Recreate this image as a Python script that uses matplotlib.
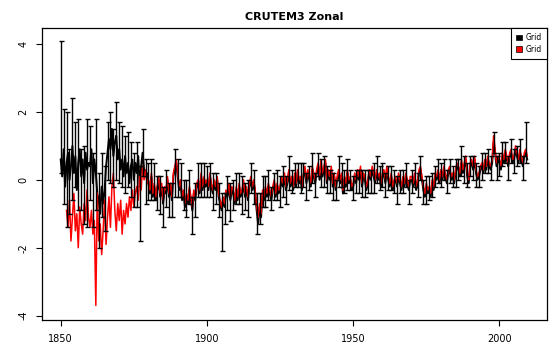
import numpy as np
import matplotlib
matplotlib.use("Agg")
import matplotlib.pyplot as plt
from matplotlib.patches import Patch

nan = np.nan

# semi-annual steps, 1850.0 .. 2009.5
years = np.arange(1850, 2010, 0.5)

grid_black = [
    0.6, 0.1, 0.9, -0.2, 0.5, 0.8, 0.0, 0.4, 1.0, 0.2, 0.7, -0.3, 0.5, 0.9, 0.1, 0.6, -0.1, 0.8, 0.3, 0.5,
    0.4, 0.9, -0.1, 0.6, 0.2, -0.4, -0.6, -1.0, -0.2, -0.7, -0.3, 0.4, 0.8, 1.2, 0.9, 1.5, 0.7, 1.1, 1.3, 0.6,
    0.9, 0.3, 0.6, 0.1, 0.7, 0.2, 0.5, -0.1, 0.4, 0.6, 0.0, 0.5, 0.2, 0.7, -0.2, 0.4, 0.8, 0.3, 0.1, 0.2,
    -0.1, -0.4, 0.1, -0.5, -0.2, -0.6, -0.3, 0.0, -0.5, -0.2, -0.7, -0.3, -0.4, 0.0, -0.5, -0.2, -0.6, 0.1, 0.3, 0.5,
    0.1, -0.3, -0.1, -0.6, -0.4, -0.8, -0.5, -0.7, -0.3, -0.6, -0.9, -0.4, -0.6, -0.2, -0.1, -0.4, 0.1, -0.3, 0.0, -0.2,
    -0.1, -0.3, 0.1, -0.2, -0.4, -0.1, -0.3, 0.0, -0.5, -0.7, -0.9, -0.6, -0.8, -0.4, -0.5, -0.2, -0.6, -0.3, -0.4, -0.7,
    -0.3, -0.6, -0.2, -0.5, -0.4, -0.1, -0.5, -0.3, -0.6, -0.2, 0.0, -0.3, -0.1, -0.4, -0.9, -1.3, -0.8, -1.1, -0.4, -0.6,
    -0.3, -0.5, -0.2, -0.4, -0.6, -0.3, -0.1, -0.5, -0.2, -0.4, -0.3, 0.0, -0.2, 0.1, -0.3, -0.1, 0.2, -0.2, 0.0, -0.3,
    0.1, -0.2, 0.2, -0.1, 0.0, -0.3, 0.1, 0.3, -0.1, 0.2, 0.0, -0.2, 0.3, 0.1, -0.1, 0.2, 0.4, 0.0, 0.2, 0.1,
    0.3, 0.5, -0.1, 0.2, 0.0, 0.3, -0.2, 0.1, -0.3, 0.0, 0.2, -0.1, 0.1, -0.4, 0.0, -0.2, 0.2, -0.1, 0.0, -0.3,
    -0.2, 0.1, -0.1, 0.2, 0.0, 0.3, -0.2, 0.1, 0.0, -0.3, -0.1, 0.2, 0.0, 0.3, 0.1, -0.1, 0.2, 0.0, 0.1, -0.2,
    0.1, 0.2, -0.1, 0.3, 0.0, -0.2, 0.1, -0.3, -0.1, 0.0, -0.2, 0.1, -0.1, -0.3, 0.0, -0.2, 0.1, -0.1, -0.3, 0.0,
    0.0, -0.2, 0.1, -0.3, -0.1, 0.2, 0.3, 0.0, -0.3, -0.5, -0.2, -0.4, -0.3, -0.5, -0.1, -0.3, 0.1, 0.0, 0.2, -0.1,
    0.2, 0.0, 0.3, 0.1, -0.1, 0.2, 0.3, 0.0, 0.1, -0.1, 0.2, 0.4, 0.3, 0.1, 0.5, 0.2, 0.4, 0.6, 0.1, -0.1,
    0.4, 0.5, 0.3, 0.6, 0.2, 0.0, 0.1, 0.3, 0.4, 0.2, 0.5, 0.3, 0.6, 0.4, 0.3, 0.5, 1.1, 0.8, 0.4, 0.6,
    0.5, 0.3, 0.7, 0.5, 0.8, 0.6, 0.4, 0.7, 0.8, 0.5, 0.6, 0.9, 0.7, 0.5, 0.8, 0.6, 0.4, 0.7, 0.8, 0.6,
]

grid_red = [
    nan, nan, nan, nan, -0.9, -1.4, -0.6, -1.8, -1.1, -0.4, -1.5, -1.0, -2.0, -0.8, -1.3, -1.6, -0.7, -1.2, -0.3, -1.1,
    -1.4, -0.9, -1.6, -1.2, -3.7, -0.4, -1.8, -1.3, -2.2, -1.5, -0.6, -1.9, -1.1, -0.5, -1.4, -0.2, 0.2, -0.9, -1.5, -0.7,
    -1.2, -0.6, -1.6, -0.9, -1.3, -0.7, -1.1, -0.5, -0.9, -0.3, -0.8, -0.4, -0.2, -0.6, 0.1, -0.3, 0.4, 0.0, 0.3, -0.1,
    0.0, -0.3, 0.2, -0.4, -0.1, -0.5, -0.2, 0.1, -0.4, -0.1, -0.6, -0.2, -0.3, 0.1, -0.4, -0.1, -0.5, 0.2, 0.4, 0.6,
    0.2, -0.2, 0.0, -0.5, -0.3, -0.7, -0.4, -0.6, -0.2, -0.5, -0.8, -0.3, -0.5, -0.1, 0.0, -0.3, 0.2, -0.2, 0.1, -0.1,
    0.0, -0.2, 0.2, -0.1, -0.3, 0.0, -0.2, 0.1, -0.4, -0.6, -0.8, -0.5, -0.7, -0.3, -0.4, -0.1, -0.5, -0.2, -0.3, -0.6,
    -0.2, -0.5, -0.1, -0.4, -0.3, 0.0, -0.4, -0.2, -0.5, -0.1, 0.1, -0.2, 0.0, -0.3, -0.8, -1.1, -0.7, -1.0, -0.3, -0.5,
    -0.2, -0.4, -0.1, -0.3, -0.5, -0.2, 0.0, -0.4, -0.1, -0.3, -0.2, 0.1, -0.1, 0.2, -0.2, 0.0, 0.3, -0.1, 0.1, -0.2,
    0.2, -0.1, 0.3, 0.0, 0.1, -0.2, 0.2, 0.4, 0.0, 0.3, 0.1, -0.1, 0.4, 0.2, 0.0, 0.3, 0.5, 0.1, 0.6, 0.2,
    0.4, 0.6, 0.0, 0.3, 0.1, 0.4, -0.1, 0.2, -0.2, 0.1, 0.3, 0.0, 0.2, -0.3, 0.1, -0.1, 0.3, 0.0, 0.1, -0.2,
    -0.1, 0.2, 0.0, 0.3, 0.1, 0.4, -0.1, 0.2, 0.1, -0.2, 0.0, 0.3, 0.1, 0.4, 0.2, 0.0, 0.3, 0.1, 0.2, -0.1,
    0.2, 0.3, 0.0, 0.4, 0.1, -0.1, 0.2, -0.2, 0.0, 0.1, -0.1, 0.2, 0.0, -0.2, 0.1, -0.1, 0.2, 0.0, -0.2, 0.1,
    0.1, -0.1, 0.2, -0.2, 0.0, 0.3, 0.4, 0.1, -0.2, -0.4, -0.1, -0.3, -0.2, -0.4, 0.0, -0.2, 0.2, 0.1, 0.3, 0.0,
    0.3, 0.1, 0.4, 0.2, 0.0, 0.3, 0.4, 0.1, 0.2, 0.0, 0.3, 0.5, 0.4, 0.2, 0.6, 0.3, 0.5, 0.7, 0.2, 0.0,
    0.5, 0.6, 0.4, 0.7, 0.3, 0.1, 0.2, 0.4, 0.5, 0.3, 0.6, 0.4, 0.7, 0.5, 0.4, 0.6, 1.3, 0.9, 0.5, 0.7,
    0.6, 0.4, 0.8, 0.6, 0.9, 0.7, 0.5, 0.8, 0.9, 0.6, 0.7, 1.0, 0.8, 0.6, 0.9, 0.7, 0.5, 0.8, 0.9, 0.7,
]

# whisker sizes, one per year (drawn at the first half of each year)
err_hi = [
    3.5, 1.2, 1.5, 0.9, 1.4, 1.0, 1.3, 0.8, 1.1, 1.5,
    1.2, 0.9, 1.6, 0.8, 1.0, 0.7, 0.9, 1.1, 0.8, 1.0,
    0.8, 1.0, 0.6, 0.9, 0.7, 0.8, 0.9, 0.6, 0.7, 0.5,
    0.6, 0.5, 0.7, 0.4, 0.6, 0.5, 0.7, 0.4, 0.5, 0.6,
    0.5, 0.6, 0.4, 0.5, 0.6, 0.4, 0.5, 0.6, 0.4, 0.5,
    0.5, 0.4, 0.6, 0.5, 0.4, 0.5, 0.4, 0.6, 0.5, 0.4,
    0.5, 0.4, 0.5, 0.4, 0.6, 0.5, 0.4, 0.5, 0.4, 0.5,
    0.4, 0.5, 0.4, 0.3, 0.5, 0.4, 0.6, 0.4, 0.5, 0.3,
    0.4, 0.3, 0.5, 0.4, 0.3, 0.4, 0.5, 0.3, 0.4, 0.4,
    0.4, 0.5, 0.3, 0.4, 0.3, 0.5, 0.4, 0.3, 0.4, 0.3,
    0.3, 0.4, 0.3, 0.5, 0.3, 0.4, 0.3, 0.4, 0.5, 0.3,
    0.4, 0.3, 0.4, 0.3, 0.4, 0.3, 0.4, 0.3, 0.4, 0.3,
    0.3, 0.4, 0.3, 0.4, 0.3, 0.3, 0.4, 0.3, 0.3, 0.4,
    0.3, 0.3, 0.4, 0.3, 0.3, 0.4, 0.3, 0.5, 0.3, 0.4,
    0.3, 0.4, 0.3, 0.3, 0.4, 0.3, 0.3, 0.4, 0.3, 0.3,
    0.3, 0.4, 0.3, 0.3, 0.4, 0.3, 0.3, 0.4, 0.3, 0.9,
]
err_lo = [
    0.4, 1.6, 1.9, 1.0, 1.6, 0.9, 1.4, 1.0, 1.2, 1.7,
    1.0, 1.3, 1.1, 1.4, 0.9, 1.2, 0.8, 1.0, 0.9, 1.3,
    1.0, 0.8, 1.1, 0.7, 0.9, 0.8, 1.0, 1.6, 0.7, 0.8,
    0.5, 0.7, 0.4, 0.6, 0.5, 0.7, 0.4, 0.6, 0.5, 0.8,
    0.6, 0.4, 0.5, 0.6, 0.4, 0.7, 0.5, 0.4, 0.6, 0.5,
    0.4, 0.6, 0.5, 0.4, 0.6, 1.2, 0.5, 0.4, 0.6, 0.5,
    0.4, 0.5, 0.6, 0.4, 0.5, 0.4, 0.6, 0.7, 0.5, 0.4,
    0.5, 0.4, 0.3, 0.5, 0.4, 0.5, 0.3, 0.4, 0.5, 0.4,
    0.3, 0.4, 0.4, 0.3, 0.5, 0.3, 0.4, 0.4, 0.3, 0.4,
    0.5, 0.3, 0.4, 0.4, 0.3, 0.4, 0.3, 0.4, 0.5, 0.3,
    0.4, 0.3, 0.4, 0.3, 0.5, 0.3, 0.4, 0.5, 0.3, 0.4,
    0.3, 0.4, 0.3, 0.4, 0.3, 0.5, 0.3, 0.4, 0.3, 0.4,
    0.4, 0.3, 0.4, 0.3, 0.4, 0.5, 0.3, 0.4, 0.3, 0.3,
    0.4, 0.3, 0.3, 0.4, 0.3, 0.4, 0.3, 0.4, 0.5, 0.3,
    0.3, 0.3, 0.4, 0.3, 0.4, 0.3, 0.4, 0.3, 0.3, 0.4,
    0.4, 0.3, 0.3, 0.4, 0.3, 0.4, 0.3, 0.3, 0.4, 0.3,
]

black = np.array(grid_black)
red = np.array(grid_red)

plt.rcParams["axes.unicode_minus"] = False

fig = plt.figure(figsize=(5.6, 3.6), dpi=100)
ax = fig.add_axes([0.075, 0.111, 0.902, 0.811])

ax.plot(years, black, color="black", lw=1.4, zorder=2)
ax.plot(years, red, color="red", lw=1.1, zorder=3)
ax.errorbar(years[::2], black[::2], yerr=[err_lo, err_hi], fmt="none",
            ecolor="black", elinewidth=1.0, capsize=1.8, capthick=1.0, zorder=4)

ax.set_xlim(1843.6, 2016.3)
ax.set_ylim(-4.13, 4.47)
ax.set_xticks([1850, 1900, 1950, 2000])
ax.set_yticks([-4, -2, 0, 2, 4])
ax.tick_params(direction="out", length=4, width=0.8, labelsize=7, pad=6)
for lab in ax.get_yticklabels():
    lab.set_rotation(90)
    lab.set_va("center")
for s in ax.spines.values():
    s.set_linewidth(0.9)

ax.set_title("CRUTEM3 Zonal", fontsize=8, fontweight="bold", pad=6)

handles = [Patch(facecolor="black", edgecolor="black", lw=0.5),
           Patch(facecolor="red", edgecolor="black", lw=0.5)]
leg = ax.legend(handles, ["Grid", "Grid"], loc="upper right", fontsize=5.5,
                handlelength=0.7, handleheight=0.7, handletextpad=0.5,
                borderaxespad=0, borderpad=0.7, labelspacing=0.3,
                fancybox=False, framealpha=1)
leg.get_frame().set_edgecolor("black")
leg.get_frame().set_linewidth(0.8)

fig.savefig("out.png", dpi=100)
